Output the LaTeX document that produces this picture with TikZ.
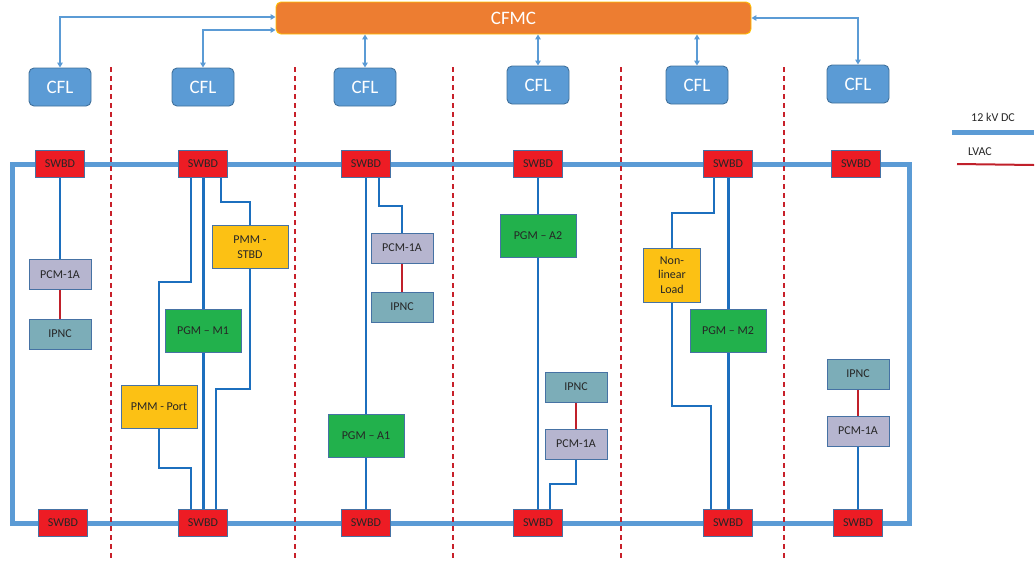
\documentclass[tikz,border=0pt]{standalone}
\usepackage{fontspec}
\setmainfont{Carlito}
\usetikzlibrary{arrows.meta,calc,backgrounds}

\definecolor{cfmcfill}{HTML}{ED7D31}
\definecolor{cfmcedge}{HTML}{FFC000}
\definecolor{cflfill}{HTML}{5B9BD5}
\definecolor{cfledge}{HTML}{41719C}
\definecolor{ctlblue}{HTML}{5B9BD5}
\definecolor{swred}{HTML}{ED1C24}
\definecolor{boxedge}{HTML}{4672A4}
\definecolor{pcmfill}{HTML}{B6B5CF}
\definecolor{ipncfill}{HTML}{7CADB8}
\definecolor{pgmfill}{HTML}{22B14C}
\definecolor{pmmfill}{HTML}{FCC114}
\definecolor{wireblue}{HTML}{1C6FBE}
\definecolor{busblue}{HTML}{5B9BD5}
\definecolor{sepred}{HTML}{C8202A}
\definecolor{acred}{HTML}{C0202A}
\definecolor{txt}{HTML}{262626}

\tikzset{
  box/.style={draw=boxedge, line width=0.9pt, inner sep=0pt, text=txt,
    font=\fontsize{12}{14.7}\selectfont, align=center},
  swbd/.style={box, fill=swred, minimum width=49pt, minimum height=27pt},
  pcm/.style={box, fill=pcmfill, minimum width=62pt, minimum height=30pt},
  ipnc/.style={box, fill=ipncfill, minimum width=62pt, minimum height=30pt},
  pgm/.style={box, fill=pgmfill, minimum width=76pt, minimum height=43pt},
  pmm/.style={box, fill=pmmfill, minimum width=76pt, minimum height=43pt},
  cfl/.style={draw=cfledge, line width=0.9pt, fill=cflfill, rounded corners=5pt,
    minimum width=62pt, minimum height=38pt, inner sep=0pt, text=white,
    font=\fontsize{19}{22}\selectfont},
  cfmcbox/.style={draw=cfmcedge, line width=0.9pt, fill=cfmcfill, rounded corners=5pt,
    minimum width=475pt, minimum height=32pt, inner sep=0pt, text=white,
    font=\fontsize{19}{22}\selectfont},
  ctl/.style={draw=ctlblue, line width=1.3pt,
    {Triangle[width=5.5pt,length=5pt]}-{Triangle[width=5.5pt,length=5pt]}},
  wire/.style={draw=wireblue, line width=2pt},
  mainwire/.style={draw=wireblue, line width=3pt},
  acwire/.style={draw=acred, line width=2pt},
  bus/.style={draw=busblue, line width=5pt},
  sepline/.style={draw=sepred, line width=1.5pt, dash pattern=on 5pt off 4pt},
  legendtext/.style={text=txt, font=\fontsize{12}{14}\selectfont, inner sep=0pt}
}

\begin{document}
\begin{tikzpicture}[x=1pt,y=-1pt]
\useasboundingbox (0,0) rectangle (1036,560);

% control layer
\node[cfmcbox] (cfmc) at (513.5,18) {CFMC};
\node[cfl] (cfl1) at (60,87) {CFL};
\node[cfl] (cfl2) at (203,87) {CFL};
\node[cfl] (cfl3) at (365,87) {CFL};
\node[cfl] (cfl4) at (538,85) {CFL};
\node[cfl] (cfl5) at (697,85) {CFL};
\node[cfl] (cfl6) at (858,84) {CFL};

\draw[ctl] ([yshift=1pt]cfmc.west) -| (cfl1.north);
\draw[ctl] ([yshift=-12pt]cfmc.west) -| (cfl2.north);
\draw[ctl] (cfl3.north |- cfmc.south) -- (cfl3.north);
\draw[ctl] (cfl4.north |- cfmc.south) -- (cfl4.north);
\draw[ctl] (cfl5.north |- cfmc.south) -- (cfl5.north);
\draw[ctl] (cfmc.east) -| (cfl6.north);

% switchboards on the DC ring
\node[swbd] (st1) at (60,164) {SWBD};
\node[swbd] (st2) at (203,164) {SWBD};
\node[swbd] (st3) at (366,164) {SWBD};
\node[swbd] (st4) at (538,164) {SWBD};
\node[swbd] (st5) at (728,164) {SWBD};
\node[swbd] (st6) at (856,164) {SWBD};
\node[swbd] (sb1) at (63,523) {SWBD};
\node[swbd] (sb2) at (203,523) {SWBD};
\node[swbd] (sb3) at (366,523) {SWBD};
\node[swbd] (sb4) at (538,523) {SWBD};
\node[swbd] (sb5) at (728,523) {SWBD};
\node[swbd] (sb6) at (858,523) {SWBD};

% zone 1
\node[pcm] (pcm1) at (60,274.5) {PCM-1A};
\node[ipnc] (ipnc1) at (60,334) {IPNC};

% zone 2
\node[pmm] (pmmS) at (250,247) {PMM -\\STBD};
\node[pgm] (pgmM1) at (203,330.5) {PGM – M1};
\node[pmm] (pmmP) at (159,406.5) {PMM - Port};

% zone 3
\node[pcm] (pcm3) at (402,248) {PCM-1A};
\node[ipnc] (ipnc3) at (402,307) {IPNC};
\node[pgm] (pgmA1) at (366,435.5) {PGM – A1};

% zone 4
\node[pgm] (pgmA2) at (538,235.5) {PGM – A2};
\node[ipnc] (ipnc4) at (576,387) {IPNC};
\node[pcm] (pcm4) at (576,444) {PCM-1A};

% zone 5
\node[pmm, minimum width=57pt, minimum height=54pt] (nll) at (672,275) {Non-\\linear\\Load};
\node[pgm] (pgmM2) at (728,331) {PGM – M2};

% zone 6
\node[ipnc] (ipnc6) at (858,374) {IPNC};
\node[pcm] (pcm6) at (858,431) {PCM-1A};

% legend
\node[legendtext] (lgdc) at (993,117) {12 kV DC};
\node[legendtext] (lgac) at (980,152) {LVAC};

\begin{pgfonlayer}{background}
  % 12 kV DC ring bus
  \draw[bus] (12,164) rectangle (909,523);
  % zone boundaries
  \foreach \xb in {111,295,453,621,784}
    \draw[sepline] (\xb,67) -- (\xb,560);

  % zone 1
  \draw[wire] (st1.south) -- (pcm1.north);
  \draw[acwire] (pcm1.south) -- (ipnc1.north);

  % zone 2
  \draw[wire] ($(st2.south)+(-12,0)$) |- (159,282) -- (pmmP.north);
  \draw[wire] (pmmP.south) |- (191,468) -- ($(sb2.north)+(-12,0)$);
  \draw[mainwire] (st2.south) -- (pgmM1.north);
  \draw[mainwire] (pgmM1.south) -- (sb2.north);
  \draw[wire] ($(st2.south)+(18,0)$) |- (250,202) -- (pmmS.north);
  \draw[wire] (pmmS.south) |- (216,389) -- ($(sb2.north)+(13,0)$);

  % zone 3
  \draw[wire] (st3.south) -- (pgmA1.north);
  \draw[wire] (pgmA1.south) -- (sb3.north);
  \draw[wire] ($(st3.south)+(13,0)$) |- (402,206) -- (pcm3.north);
  \draw[acwire] (pcm3.south) -- (ipnc3.north);

  % zone 4
  \draw[wire] (st4.south) -- (pgmA2.north);
  \draw[wire] (pgmA2.south) -- (sb4.north);
  \draw[acwire] (ipnc4.south) -- (pcm4.north);
  \draw[wire] (pcm4.south) |- (550,484) -- ($(sb4.north)+(12,0)$);

  % zone 5
  \draw[wire] ($(st5.south)+(-14,0)$) |- (672,213) -- (nll.north);
  \draw[wire] (nll.south) |- (711,406) -- ($(sb5.north)+(-17,0)$);
  \draw[mainwire] (st5.south) -- (pgmM2.north);
  \draw[mainwire] (pgmM2.south) -- (sb5.north);

  % zone 6
  \draw[acwire] (ipnc6.south) -- (pcm6.north);
  \draw[wire] (pcm6.south) -- (sb6.north);

  % legend samples
  \draw[bus] (952,132) -- (1034,132);
  \draw[acwire] (957,164) -- (1034,165);
\end{pgfonlayer}
\end{tikzpicture}
\end{document}
